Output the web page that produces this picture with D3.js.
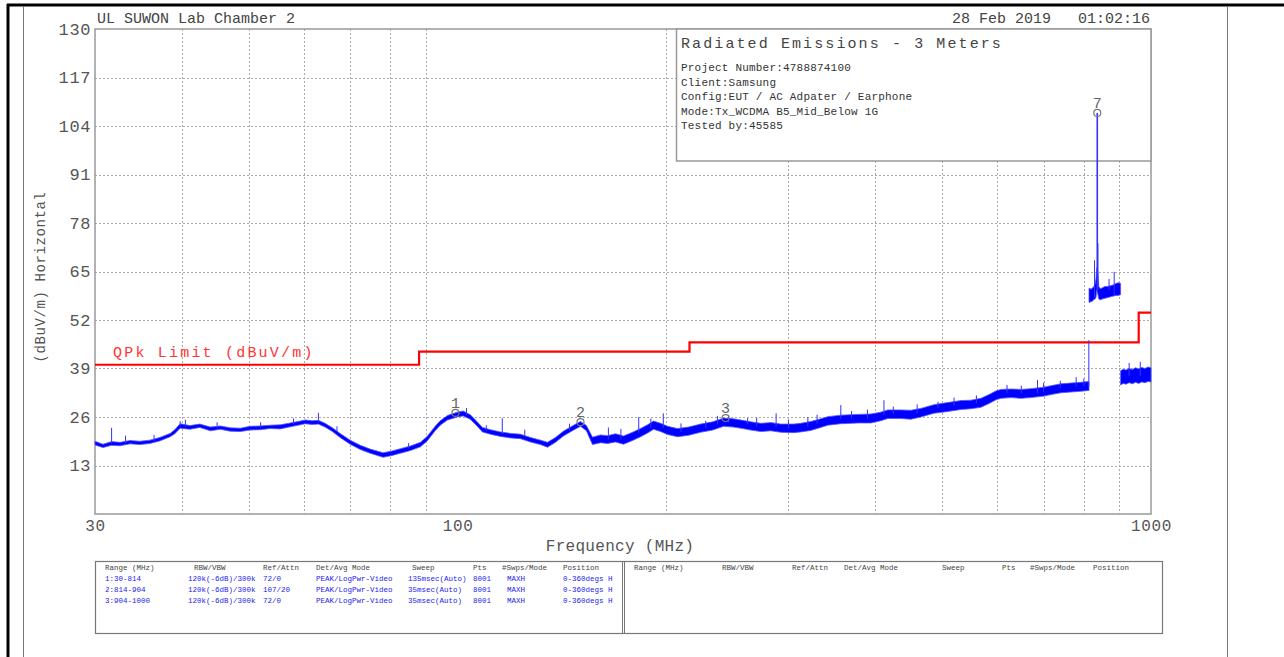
<!DOCTYPE html>
<html>
<head>
<meta charset="utf-8">
<script src="https://cdn.jsdelivr.net/npm/d3@7/dist/d3.min.js"></script>
<style>
body { margin: 0; background: #fff; }
svg text { font-family: "Liberation Mono", "DejaVu Sans Mono", monospace; }
</style>
</head>
<body>
<script>
// sweep 1: 30-814 MHz (band of the trace, low / high edge, dBuV/m)
const seg1Freq = [30.0, 30.8, 31.7, 32.6, 33.7, 34.8, 36.0, 37.2, 38.5, 39.1, 39.8, 41.1, 42.5, 44.0, 45.5, 47.0, 48.6, 50.2, 51.9, 53.7, 55.5, 57.4, 59.3, 60.3, 61.7, 63.0, 64.4, 66.0, 67.7, 70.0, 72.4, 74.8, 78.1, 80.5, 82.7, 85.5, 88.4, 90.4, 92.9, 94.4, 96.7, 99.9, 101.9, 104.3, 106.4, 108.6, 111.5, 115.3, 119.2, 123.2, 127.4, 131.7, 134.8, 138.4, 142.1, 147.0, 150.4, 153.4, 156.5, 160.8, 164.5, 169.0, 173.5, 178.8, 183.6, 187.9, 191.7, 196.2, 200.9, 207.6, 215.4, 224.1, 233.3, 241.9, 250.1, 257.7, 264.7, 273.6, 282.9, 292.4, 305.3, 312.5, 323.1, 334.0, 341.9, 357, 378.2, 394.4, 407.7, 417.3, 435.8, 450.5, 465.7, 486.3, 506.1, 531.9, 549.9, 568.5, 583.9, 597.6, 607.6, 628.1, 649.4, 671.3, 701.0, 717.5, 741.7, 766.8, 792.7, 811.4, 814];
const seg1Lo = [18.5, 17.8, 18.4, 18.3, 18.8, 18.6, 18.9, 19.6, 20.7, 21.5, 23.0, 22.7, 23.2, 22.3, 22.7, 22.2, 22.1, 22.5, 22.6, 22.9, 22.8, 23.4, 23.9, 24.2, 24.0, 24.1, 23.3, 22.1, 20.5, 18.7, 17.3, 16.3, 15.2, 15.7, 16.3, 17.0, 18.0, 19.6, 22.4, 23.8, 25.2, 26.0, 26.3, 25.4, 23.8, 22.0, 21.4, 20.8, 20.4, 20.2, 19.3, 18.6, 17.9, 19.2, 20.9, 22.5, 23.5, 22.3, 18.6, 19.1, 18.9, 19.3, 18.7, 19.7, 20.7, 21.7, 22.7, 22.1, 21.3, 20.7, 21.1, 21.9, 22.5, 23.5, 23.3, 22.9, 22.5, 22.1, 22.3, 21.9, 21.8, 22.0, 22.4, 23.2, 23.8, 24.2, 24.4, 24.4, 25.0, 25.6, 25.6, 25.4, 26.0, 27.0, 27.4, 28.0, 28.2, 28.6, 29.6, 30.6, 31.0, 31.2, 31.0, 31.2, 31.6, 32.0, 32.5, 32.7, 32.9, 33.1, 33.1];
const seg1Hi = [19.5, 18.7, 19.4, 19.2, 19.7, 19.5, 19.8, 20.5, 21.6, 22.6, 24.2, 23.7, 24.1, 23.3, 23.6, 23.1, 23.0, 23.5, 23.6, 23.8, 23.9, 24.4, 24.9, 25.2, 25.0, 25.1, 24.3, 23.1, 21.6, 19.8, 18.4, 17.4, 16.4, 16.9, 17.5, 18.2, 19.2, 20.8, 23.6, 25.0, 26.4, 27.3, 27.6, 26.6, 25.0, 23.2, 22.6, 22.0, 21.6, 21.4, 20.5, 19.8, 19.2, 20.5, 22.2, 23.8, 24.8, 23.7, 20.6, 21.2, 21.0, 21.5, 20.9, 21.9, 22.9, 23.9, 24.9, 24.3, 23.5, 22.9, 23.3, 24.1, 24.7, 25.7, 25.5, 25.1, 24.7, 24.3, 24.5, 24.1, 24.1, 24.3, 24.8, 25.5, 26.1, 26.5, 26.7, 26.8, 27.3, 27.9, 27.9, 27.8, 28.3, 29.3, 29.8, 30.4, 30.5, 31.0, 32.0, 33.0, 33.4, 33.5, 33.4, 33.6, 34.0, 34.4, 34.9, 35.1, 35.3, 35.5, 35.4];

// sweep 2: 814-904 MHz
const seg2Freq = [814, 816, 819, 822, 826, 830, 833, 835, 838, 841, 845, 850, 858, 866, 874, 882, 890, 897, 904];
const seg2Lo = [56.8, 56.6, 57.0, 56.9, 57.4, 57.6, 58.0, 60.0, 59.0, 57.6, 57.4, 57.6, 57.8, 58.0, 58.2, 58.4, 58.6, 58.6, 58.8];
const seg2Hi = [60.4, 60.6, 60.2, 60.5, 60.8, 61.5, 63.0, 66.0, 65.0, 61.0, 60.4, 60.6, 61.0, 61.0, 61.2, 61.4, 61.8, 62.0, 61.8];

// sweep 3: 904-1000 MHz
const seg3Freq = [904, 912, 920, 930, 940, 950, 960, 970, 980, 990, 1000];
const seg3Lo = [34.6, 35.0, 34.8, 35.2, 34.9, 35.3, 35.0, 35.4, 35.2, 35.5, 35.4];
const seg3Hi = [38.4, 38.8, 38.6, 39.0, 38.7, 39.2, 38.9, 39.3, 39.0, 39.4, 39.2];

// narrow spikes on the trace
const spikeFreq = [31.7, 33.2, 36.5, 39.8, 40.5, 45, 52, 58, 63.0, 67, 85, 103, 110, 116, 125, 145, 165, 172, 182.5, 190, 198, 210, 228, 237, 246, 262, 270, 288, 300, 320, 330, 357, 370, 390, 412, 425, 460, 493, 520, 560, 620, 650, 686, 700, 740, 780, 800, 813.5, 829, 836.6, 838.5, 870, 885, 930, 965];
const spikeBase = [19.0, 19.0, 19.5, 23.5, 23.4, 23.0, 23.2, 24.1, 24.6, 22.0, 17.6, 26.5, 22.3, 21.4, 20.8, 22.5, 20.0, 20.0, 21.8, 23.1, 23.0, 22.0, 23.0, 24.0, 24.5, 24.0, 23.5, 23.4, 23.0, 23.5, 24.2, 25.4, 25.6, 25.6, 26.5, 26.8, 27.0, 28.4, 29.0, 29.6, 32.4, 32.4, 32.4, 32.8, 33.7, 34.1, 34.3, 34.3, 58.0, 60.0, 60.0, 60.0, 58.4, 37.0, 37.0];
const spikePeak = [23.1, 21.0, 21.2, 24.9, 25.3, 24.6, 24.6, 25.6, 27.1, 23.5, 19.0, 28.4, 23.8, 25.7, 22.6, 24.2, 23.2, 22.8, 26.0, 25.6, 27.0, 24.3, 25.0, 26.3, 26.5, 25.7, 25.8, 27.0, 25.3, 26.0, 26.6, 29.2, 27.6, 28.0, 30.5, 28.8, 29.4, 30.1, 31.2, 31.8, 34.6, 34.4, 35.9, 35.2, 35.7, 36.7, 36.3, 46.6, 68.0, 107.5, 72.6, 63.0, 64.9, 40.5, 40.8];

// QPk limit (step after)
const limitFreq = [30, 88, 216, 960, 1000];
const limitLevel = [40, 43.5, 46, 54, 54];

// markers
const markerNum = ['1', '2', '3', '7'];
const markerFreq = [99.3, 150.4, 243.5, 836.6];
const markerLevel = [27.1, 24.6, 25.7, 107.5];

// axes
const yTickVals = [13, 26, 39, 52, 65, 78, 91, 104, 117, 130];
const xGridVals = [40, 50, 60, 70, 80, 90, 200, 300, 400, 500, 600, 700, 800, 900];
const xTickVals = [30, 100, 1000];

// texts
const infoTitle = 'Radiated Emissions - 3 Meters';
const infoLines = ['Project Number:4788874100', 'Client:Samsung', 'Config:EUT / AC Adpater / Earphone', 'Mode:Tx_WCDMA B5_Mid_Below 1G', 'Tested by:45585'];
const tableHeader = ['Range (MHz)', 'RBW/VBW', 'Ref/Attn', 'Det/Avg Mode', 'Sweep', 'Pts', '#Swps/Mode', 'Position'];
const tableRows = [
  ['1:30-814', '120k(-6dB)/300k', '72/0', 'PEAK/LogPwr-Video', '135msec(Auto)', '8001', 'MAXH', '0-360degs H'],
  ['2:814-904', '120k(-6dB)/300k', '107/20', 'PEAK/LogPwr-Video', '35msec(Auto)', '8001', 'MAXH', '0-360degs H'],
  ['3:904-1000', '120k(-6dB)/300k', '72/0', 'PEAK/LogPwr-Video', '35msec(Auto)', '8001', 'MAXH', '0-360degs H']
];

const w = 1284;
const h = 657;
const pLeft = 95, pRight = 1151, pTop = 29, pBottom = 514;

const svg = d3.select('body')
  .append('svg')
  .attr('width', w)
  .attr('height', h);

const xScale = d3.scaleLog().domain([30, 1000]).range([pLeft, pRight]);
const yScale = d3.scaleLinear().domain([0, 130]).range([pBottom, pTop]);

// page frame
svg.append('line').attr('x1', 7).attr('x2', 1284).attr('y1', 5).attr('y2', 5)
  .attr('stroke', '#000').attr('stroke-width', 3);
svg.append('line').attr('x1', 8).attr('x2', 8).attr('y1', 4).attr('y2', h)
  .attr('stroke', '#000').attr('stroke-width', 3);
svg.append('line').attr('x1', 23.5).attr('x2', 23.5).attr('y1', 6).attr('y2', h)
  .attr('stroke', '#777').attr('stroke-width', 1);
svg.append('line').attr('x1', 1227.5).attr('x2', 1227.5).attr('y1', 6).attr('y2', h)
  .attr('stroke', '#777').attr('stroke-width', 1);

// grid
svg.selectAll('.hgrid')
  .data(yTickVals.filter(d => d < 130))
  .enter().append('line')
  .attr('class', 'hgrid')
  .attr('x1', pLeft).attr('x2', pRight)
  .attr('y1', d => Math.round(yScale(d)) + 0.5)
  .attr('y2', d => Math.round(yScale(d)) + 0.5)
  .attr('stroke', '#aaa').attr('stroke-dasharray', '2,2');
svg.selectAll('.vgrid')
  .data(xGridVals)
  .enter().append('line')
  .attr('class', 'vgrid')
  .attr('y1', pTop).attr('y2', pBottom)
  .attr('x1', d => Math.round(xScale(d)) + 0.5)
  .attr('x2', d => Math.round(xScale(d)) + 0.5)
  .attr('stroke', '#aaa').attr('stroke-dasharray', '2,2');

// plot frame
svg.append('rect')
  .attr('x', pLeft).attr('y', pTop)
  .attr('width', pRight - pLeft).attr('height', pBottom - pTop)
  .attr('fill', 'none').attr('stroke', '#999').attr('stroke-width', 1.5);

// limit line
const limitData = limitFreq.map((f, i) => ({ f: f, v: limitLevel[i] }));
svg.append('path')
  .datum(limitData)
  .attr('fill', 'none')
  .attr('stroke', '#ff0000')
  .attr('stroke-width', 2.2)
  .attr('d', d3.line().curve(d3.curveStepAfter).x(d => xScale(d.f)).y(d => yScale(d.v)));

svg.append('text')
  .attr('x', 113).attr('y', 357)
  .attr('font-size', 15)
  .attr('letter-spacing', 2.2)
  .attr('fill', '#f33')
  .text('QPk Limit (dBuV/m)');

// info box
svg.append('rect')
  .attr('x', 676.5).attr('y', pTop)
  .attr('width', pRight - 676.5).attr('height', 132)
  .attr('fill', '#fff').attr('stroke', '#999').attr('stroke-width', 1.5);
svg.append('text')
  .attr('x', 681).attr('y', 48)
  .attr('font-size', 15).attr('letter-spacing', 2.1)
  .attr('fill', '#444')
  .text(infoTitle);
svg.selectAll('.info')
  .data(infoLines)
  .enter().append('text')
  .attr('class', 'info')
  .attr('x', 681)
  .attr('y', (d, i) => 71 + i * 14.5)
  .attr('font-size', 11).attr('letter-spacing', 0.2)
  .attr('fill', '#333')
  .text(d => d);

// trace
const area = d3.area()
  .x(d => xScale(d.f))
  .y0(d => yScale(d.lo))
  .y1(d => yScale(d.hi));
const segs = [
  seg1Freq.map((f, i) => ({ f: f, lo: seg1Lo[i], hi: seg1Hi[i] })),
  seg2Freq.map((f, i) => ({ f: f, lo: seg2Lo[i], hi: seg2Hi[i] })),
  seg3Freq.map((f, i) => ({ f: f, lo: seg3Lo[i], hi: seg3Hi[i] }))
];
svg.selectAll('.trace')
  .data(segs)
  .enter().append('path')
  .attr('class', 'trace')
  .attr('d', area)
  .attr('fill', '#0000ff')
  .attr('stroke', '#5555ff')
  .attr('stroke-width', 0.8);

svg.selectAll('.spike')
  .data(spikeFreq)
  .enter().append('line')
  .attr('class', 'spike')
  .attr('x1', d => xScale(d)).attr('x2', d => xScale(d))
  .attr('y1', (d, i) => yScale(spikeBase[i]))
  .attr('y2', (d, i) => yScale(spikePeak[i]))
  .attr('stroke', '#3333ff')
  .attr('stroke-width', (d, i) => spikePeak[i] > 100 ? 1.6 : 1);

// markers
const markers = svg.selectAll('.marker')
  .data(markerFreq)
  .enter().append('g')
  .attr('class', 'marker')
  .attr('transform', (d, i) => 'translate(' + xScale(d) + ',' + yScale(markerLevel[i]) + ')');
markers.append('circle')
  .attr('r', 3.5)
  .attr('fill', 'none')
  .attr('stroke', '#777')
  .attr('stroke-width', 1.2);
markers.append('text')
  .attr('y', -5)
  .attr('text-anchor', 'middle')
  .attr('font-size', 15)
  .attr('fill', '#666')
  .text((d, i) => markerNum[i]);

// axes
const yAxis = d3.axisLeft(yScale).tickValues(yTickVals).tickSize(0).tickPadding(4);
const yG = svg.append('g').attr('transform', 'translate(' + pLeft + ',0)').call(yAxis);
yG.select('.domain').remove();
yG.selectAll('text')
  .attr('font-family', '"Liberation Mono", monospace')
  .attr('font-size', 17).attr('letter-spacing', 0.6)
  .attr('fill', '#555');

const xAxis = d3.axisBottom(xScale).tickValues(xTickVals).tickFormat(d3.format('d')).tickSize(0).tickPadding(6);
const xG = svg.append('g').attr('transform', 'translate(0,' + pBottom + ')').call(xAxis);
xG.select('.domain').remove();
xG.selectAll('text')
  .attr('font-family', '"Liberation Mono", monospace')
  .attr('font-size', 16).attr('letter-spacing', 0.6)
  .attr('fill', '#555');

svg.append('text')
  .attr('x', 620).attr('y', 551)
  .attr('text-anchor', 'middle')
  .attr('font-size', 16).attr('letter-spacing', 0.3)
  .attr('fill', '#555')
  .text('Frequency (MHz)');

svg.append('text')
  .attr('transform', 'translate(45,277) rotate(-90)')
  .attr('text-anchor', 'middle')
  .attr('font-size', 14).attr('letter-spacing', 0.6)
  .attr('fill', '#555')
  .text('(dBuV/m) Horizontal');

// header texts
svg.append('text')
  .attr('x', 97).attr('y', 23)
  .attr('font-size', 15)
  .attr('fill', '#444')
  .text('UL SUWON Lab Chamber 2');
svg.append('text')
  .attr('x', 1150).attr('y', 23)
  .attr('text-anchor', 'end')
  .attr('font-size', 15)
  .attr('fill', '#444')
  .style('white-space', 'pre')
  .text('28 Feb 2019   01:02:16');

// sweep table
svg.append('rect')
  .attr('x', 95.5).attr('y', 561.5)
  .attr('width', 1067).attr('height', 72)
  .attr('fill', 'none').attr('stroke', '#777').attr('stroke-width', 1.2);
svg.append('line').attr('x1', 622.5).attr('x2', 622.5).attr('y1', 562).attr('y2', 633)
  .attr('stroke', '#777');
svg.append('line').attr('x1', 624.5).attr('x2', 624.5).attr('y1', 562).attr('y2', 633)
  .attr('stroke', '#777');

const headX = [[105, 194, 263, 316, 412, 473, 502, 563], [634, 722, 792, 844, 942, 1002, 1030, 1093]];
const rowX = [105, 188, 263, 316, 408, 473, 507, 563];
headX.forEach(function(cols) {
  svg.selectAll(null)
    .data(tableHeader)
    .enter().append('text')
    .attr('x', (d, i) => cols[i])
    .attr('y', 570)
    .attr('font-size', 7.5)
    .attr('fill', '#444')
    .text(d => d);
});
tableRows.forEach(function(row, r) {
  svg.selectAll(null)
    .data(row)
    .enter().append('text')
    .attr('x', (d, i) => rowX[i])
    .attr('y', 581 + r * 11)
    .attr('font-size', 7.5)
    .attr('fill', '#2222ee')
    .text(d => d);
});
</script>
</body>
</html>
